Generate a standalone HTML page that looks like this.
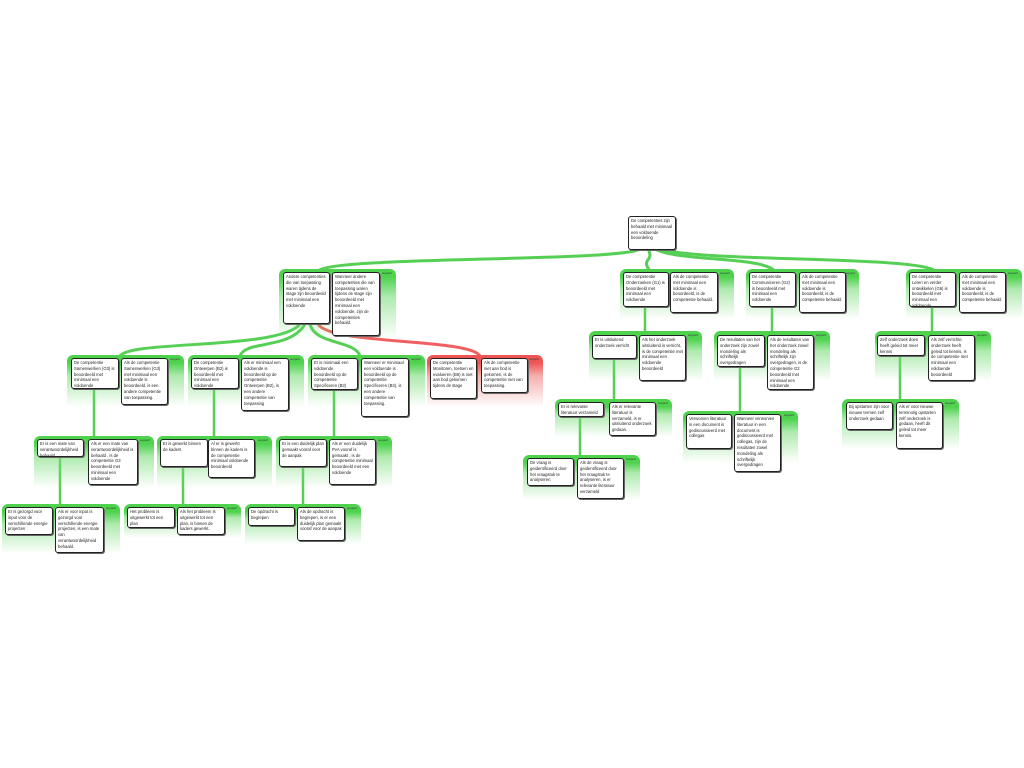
<!DOCTYPE html>
<html><head><meta charset="utf-8"><style>
body{margin:0;width:1024px;height:768px;background:#fff;position:relative;overflow:hidden;font-family:"Liberation Sans",sans-serif}
.p{position:absolute;border-radius:6px 6px 0 0;background:linear-gradient(#4fd34f,#4fd34f 8px,rgba(120,220,120,.6) 40%,rgba(255,255,255,0) 100%)}
.p.r{background:linear-gradient(#f05555,#f05555 8px,rgba(240,120,120,.6) 40%,rgba(255,255,255,0) 100%)}
.s{position:absolute;right:4px;top:2px;font-size:3px;color:#333}
.b{position:absolute;background:#fff;border:1px solid #222;border-radius:3px;box-shadow:1px 1px 0 #666;font-size:4.2px;line-height:5.8px;padding:1px 2px;box-sizing:border-box;color:#222;overflow:hidden}
svg{position:absolute;left:0;top:0}
</style></head><body>
<svg width="1024" height="768" fill="none" stroke-linecap="round">
<g stroke="#55d055" stroke-width="3">
<path d="M640,249 C620,262 330,256 318,271"/>
<path d="M648,249 C655,262 640,258 650,271"/>
<path d="M655,249 C680,262 760,256 775,271"/>
<path d="M660,249 C700,262 920,256 935,271"/>
<path d="M300,324 C280,350 130,340 120,356"/>
<path d="M305,324 C290,350 245,340 240,356"/>
<path d="M310,324 C315,345 355,340 360,356"/>
</g>
<path d="M318,324 C330,345 470,338 480,356" stroke="#f06060" stroke-width="3"/>
<g stroke="#55d055" stroke-width="2.5">
<path d="M645,306 V332"/><path d="M614,358 V400"/><path d="M580,416 V456"/>
<path d="M772,306 V332"/><path d="M740,366 V412"/>
<path d="M932,306 V332"/><path d="M900,355 V400"/>
<path d="M94,388 V437"/><path d="M214,388 V437"/><path d="M334,389 V437"/>
<path d="M60,456 V505"/><path d="M183,466 V505"/><path d="M303,466 V505"/>
</g>
</svg>

<div class="b" style="left:628px;top:216px;width:48px;height:34px">De competenties zijn behaald met minimaal een voldoende beoordeling</div>

<div class="p" style="left:279px;top:269px;width:117px;height:70px"><span class="s">support</span></div>
<div class="b" style="left:283px;top:272px;width:47px;height:52px">Andere competenties die van toepassing waren tijdens de stage zijn beoordeeld met minimaal een voldoende</div>
<div class="b" style="left:332px;top:272px;width:48px;height:64px">Wanneer andere competenties die van toepassing waren tijdens de stage zijn beoordeeld met minimaal een voldoende, zijn de competenties behaald.</div>

<div class="p" style="left:620px;top:269px;width:114px;height:50px"><span class="s">support</span></div>
<div class="b" style="left:623px;top:272px;width:46px;height:35px">De competentie Onderzoeken (G1) is beoordeeld met minimaal een voldoende</div>
<div class="b" style="left:670px;top:272px;width:48px;height:41px">Als de competentie met minimaal een voldoende is beoordeeld, is de competentie behaald.</div>

<div class="p" style="left:746px;top:269px;width:113px;height:50px"><span class="s">support</span></div>
<div class="b" style="left:749px;top:272px;width:47px;height:35px">De competentie Communiceren (G2) is beoordeeld met minimaal een voldoende</div>
<div class="b" style="left:799px;top:272px;width:47px;height:41px">Als de competentie met minimaal een voldoende is beoordeeld, is de competentie behaald.</div>

<div class="p" style="left:906px;top:269px;width:116px;height:50px"><span class="s">support</span></div>
<div class="b" style="left:909px;top:272px;width:47px;height:35px">De competentie Leren en verder ontwikkelen (G6) is beoordeeld met minimaal een voldoende</div>
<div class="b" style="left:959px;top:272px;width:47px;height:41px">Als de competentie met minimaal een voldoende is beoordeeld, is de competentie behaald.</div>

<div class="p" style="left:67px;top:355px;width:117px;height:52px"><span class="s">support</span></div>
<div class="b" style="left:71px;top:358px;width:48px;height:31px">De competentie Samenwerken (G3) is beoordeeld met minimaal een voldoende</div>
<div class="b" style="left:121px;top:358px;width:47px;height:47px">Als de competentie Samenwerken (G3) met minimaal een voldoende is beoordeeld, is een andere competentie van toepassing.</div>

<div class="p" style="left:188px;top:355px;width:116px;height:52px"><span class="s">support</span></div>
<div class="b" style="left:191px;top:358px;width:48px;height:31px">De competentie Ontwerpen (B2) is beoordeeld met minimaal een voldoende</div>
<div class="b" style="left:241px;top:358px;width:48px;height:53px">Als er minimaal een voldoende is beoordeeld op de competentie Ontwerpen (B2), is een andere competentie van toepassing</div>

<div class="p" style="left:308px;top:355px;width:117px;height:52px"><span class="s">support</span></div>
<div class="b" style="left:311px;top:358px;width:47px;height:32px">Er is minimaal een voldoende beoordeeld op de competentie Specificeren (B3)</div>
<div class="b" style="left:361px;top:358px;width:48px;height:59px">Wanneer er minimaal een voldoende is beoordeeld op de competentie Specificeren (B3), is een andere competentie van toepassing.</div>

<div class="p r" style="left:427px;top:355px;width:116px;height:52px"><span class="s">support</span></div>
<div class="b" style="left:430px;top:358px;width:47px;height:41px">De competentie Monitoren, toetsen en evalueren (B6) is niet aan bod gekomen tijdens de stage</div>
<div class="b" style="left:481px;top:358px;width:47px;height:35px">Als de competentie niet aan bod is gekomen, is de competentie niet van toepassing.</div>

<div class="p" style="left:589px;top:331px;width:113px;height:50px"><span class="s">support</span></div>
<div class="b" style="left:592px;top:335px;width:45px;height:24px">Er is uitsluitend onderzoek verricht</div>
<div class="b" style="left:639px;top:335px;width:47px;height:46px">Als het onderzoek uitsluitend is verricht, is de competentie met minimaal een voldoende beoordeeld</div>

<div class="p" style="left:714px;top:331px;width:116px;height:50px"><span class="s">support</span></div>
<div class="b" style="left:717px;top:335px;width:48px;height:32px">De resultaten van het onderzoek zijn zowel mondeling als schriftelijk overgedragen</div>
<div class="b" style="left:767px;top:335px;width:47px;height:55px">Als de resultaten van het onderzoek zowel mondeling als schriftelijk zijn overgedragen, is de competentie G2 beoordeeld met minimaal een voldoende</div>

<div class="p" style="left:875px;top:331px;width:116px;height:50px"><span class="s">support</span></div>
<div class="b" style="left:877px;top:335px;width:48px;height:21px">Zelf onderzoek doen heeft geleid tot meer kennis</div>
<div class="b" style="left:928px;top:335px;width:47px;height:46px">Als zelf verrichte onderzoek heeft geleid tot kennis, is de competentie met minimaal een voldoende beoordeeld</div>

<div class="p" style="left:34px;top:436px;width:120px;height:52px"><span class="s">support</span></div>
<div class="b" style="left:37px;top:439px;width:47px;height:18px">Er is een mate van verantwoordelijkheid behaald</div>
<div class="b" style="left:88px;top:439px;width:50px;height:46px">Als er een mate van verantwoordelijkheid is behaald , is de competentie G3 beoordeeld met minimaal een voldoende</div>

<div class="p" style="left:157px;top:436px;width:115px;height:52px"><span class="s">support</span></div>
<div class="b" style="left:160px;top:439px;width:48px;height:28px">Er is gewerkt binnen de kaders</div>
<div class="b" style="left:208px;top:439px;width:47px;height:39px">Al er is gewerkt binnen de kaders is de competentie minimaal voldoende beoordeeld</div>

<div class="p" style="left:276px;top:436px;width:116px;height:52px"><span class="s">support</span></div>
<div class="b" style="left:279px;top:439px;width:48px;height:28px">Er is een duidelijk plan gemaakt vooraf voor de aanpak</div>
<div class="b" style="left:329px;top:439px;width:47px;height:46px">Als er een duidelijk PvA vooraf is gemaakt , is de competentie minimaal beoordeeld met een voldoende</div>

<div class="p" style="left:555px;top:399px;width:117px;height:38px"><span class="s">support</span></div>
<div class="b" style="left:558px;top:402px;width:46px;height:15px">Er is relevante literatuur verzameld</div>
<div class="b" style="left:609px;top:402px;width:47px;height:34px">Als er relevante literatuur is verzameld, is er uitsluitend onderzoek gedaan.</div>

<div class="p" style="left:683px;top:411px;width:115px;height:52px"><span class="s">support</span></div>
<div class="b" style="left:686px;top:414px;width:46px;height:35px">Verworven literatuur in een document is gediscussieerd met collegas</div>
<div class="b" style="left:734px;top:414px;width:47px;height:58px">Wanneer verworven literatuur in een document is gediscussieerd met collegas, zijn de resultaten zowel mondeling als schriftelijk overgedragen</div>

<div class="p" style="left:842px;top:399px;width:117px;height:50px"><span class="s">support</span></div>
<div class="b" style="left:846px;top:402px;width:47px;height:28px">Bij opstarten zijn voor nieuwe termen zelf onderzoek gedaan</div>
<div class="b" style="left:896px;top:402px;width:47px;height:47px">Als er voor nieuwe terminolig opstarten zelf onderzoek is gedaan, heeft dit geleid tot meer kennis.</div>

<div class="p" style="left:2px;top:504px;width:118px;height:50px"><span class="s">support</span></div>
<div class="b" style="left:5px;top:507px;width:48px;height:28px">Er is gezorgd voor input voor de verschillende energie projecten</div>
<div class="b" style="left:55px;top:507px;width:49px;height:46px">Als er voor input is gezorgd voor verschillende energie projecten, is een mate van verantwoordelijkheid behaald.</div>

<div class="p" style="left:124px;top:504px;width:117px;height:34px"><span class="s">support</span></div>
<div class="b" style="left:127px;top:507px;width:48px;height:21px">Het probleem is uitgewerkt tot een plan</div>
<div class="b" style="left:177px;top:507px;width:48px;height:28px">Als het probleem is uitgewerkt tot een plan, is binnen de kaders gewerkt.</div>

<div class="p" style="left:245px;top:504px;width:116px;height:40px"><span class="s">support</span></div>
<div class="b" style="left:248px;top:507px;width:47px;height:19px">De opdracht is begrepen</div>
<div class="b" style="left:297px;top:507px;width:48px;height:34px">Als de opdracht is begrepen, is er een duidelijk plan gemaakt vooraf voor de aanpak</div>

<div class="p" style="left:523px;top:455px;width:117px;height:45px"><span class="s">support</span></div>
<div class="b" style="left:527px;top:458px;width:47px;height:28px">De vraag is geidentificeerd door het vraagstuk te analyseren</div>
<div class="b" style="left:577px;top:458px;width:47px;height:41px">Als de vraag is geidentificeerd door het vraagstuk te analyseren, is er relevante literatuur verzameld</div>
</body></html>
